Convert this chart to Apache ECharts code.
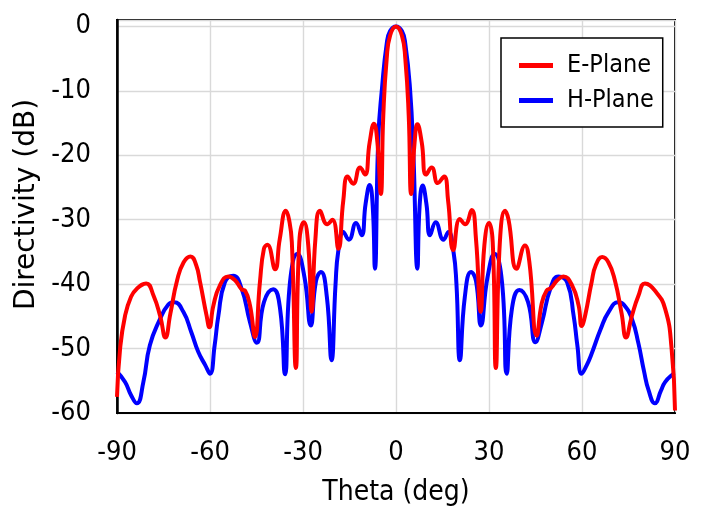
<!DOCTYPE html>
<html>
<head>
<meta charset="utf-8">
<script src="https://cdn.jsdelivr.net/npm/echarts@6/dist/echarts.min.js"></script>
<style>html,body{margin:0;padding:0;background:#fff}#c{width:704px;height:509px}</style>
</head>
<body>
<div id="c"></div>
<script>
const seriesNames = ['E-Plane', 'H-Plane'];
const xTicks = [-90, -60, -30, 0, 30, 60, 90];
const yTicks = [-60, -50, -40, -30, -20, -10, 0];

const thetaE = [-90,-89,-87.4,-85.5,-83.6,-80.6,-78.2,-76,-74.4,-72.8,-70.6,-68.5,-66.3,-64.5,-63.2,-61.1,-60.2,-58.9,-56.8,-54.1,-51.9,-49.8,-48.7,-47.1,-45.5,-43.9,-42.6,-41.5,-39,-37.5,-35.5,-34.5,-33.6,-32.3,-31.2,-29.7,-28.3,-27.2,-26,-24.5,-22.2,-20.5,-18.6,-17,-15.6,-13.8,-11.6,-10,-8.5,-7.1,-6,-4.9,-4.1,-3,-1.9,0,
  1.9,3,4.1,4.9,6,6.9,8.3,9.7,11.5,13.5,15.5,16.8,18.5,20.6,22.3,24.4,25.8,27.3,28.5,30,31.2,32.2,33.5,35.2,36.3,38.9,41.6,43,45.4,47,48.6,50,52,54,56.8,58.9,59.9,61,63.1,64.5,66.5,68.5,70.6,72.8,74.2,76,78.2,80.3,83.5,86.8,88.9,90];
const dbE = [-57.5,-50,-44.9,-42,-40.7,-39.9,-41.8,-45.1,-48.3,-44.6,-39.4,-36.6,-35.7,-37,-39.7,-44.9,-46.7,-43.3,-40.2,-38.8,-39.4,-40.8,-41,-43.3,-48.2,-39.7,-34.5,-33.9,-37.7,-33,-28.6,-30,-33.5,-53,-33.5,-30.4,-34,-44.3,-33,-28.6,-30.7,-30,-34.5,-27,-23.3,-24.4,-21.9,-23,-18,-15.1,-18,-26,-13.8,-5,-1.4,0,
  -1.4,-5,-13.8,-26,-18,-15.2,-18,-23,-21.9,-24.3,-23.3,-27,-34.7,-29.9,-30.7,-28.5,-33,-44.3,-34,-30.5,-33.5,-53,-33.5,-28.6,-30,-37.6,-34,-36.5,-48,-43,-41,-40.6,-39.4,-38.8,-40.2,-43.3,-46.5,-44.9,-39.7,-37,-35.8,-36.6,-39.4,-44.6,-48.3,-45.1,-41.8,-39.9,-41,-43.8,-50,-59.6];

const thetaH = [-90,-87.4,-85.5,-83.6,-81.5,-79.4,-76.1,-73.5,-71.6,-68.6,-66,-63.8,-61.5,-60,-58.5,-57.3,-55.2,-52.5,-49.8,-47.1,-44.9,-42.6,-39.6,-37.4,-35.8,-34.2,-31.8,-29.5,-27.5,-25.8,-24.2,-22.3,-20.8,-19.5,-18.6,-17,-15.2,-12.9,-11.1,-9.8,-8.5,-7.5,-6.8,-5.7,-4.5,-3,-1.9,0,
  1.9,3,4.5,5.6,6.9,7.6,8.6,9.8,11,12.8,15.3,16.9,18.5,19.5,20.6,22.2,24.2,25.8,27.4,29.5,31.8,34.2,35.7,37.4,39.8,42.6,45,47.1,49.8,52.4,55.2,57.3,58.5,59.9,61.5,63.1,66,68.6,71.7,73.5,76.1,78.2,80,81.5,83.5,85.5,86.8,89.5,90];
const dbH = [-53.6,-55.2,-57.2,-58.5,-55.2,-49.5,-45.4,-43.2,-42.8,-44.3,-47.5,-50.5,-52.6,-53.9,-49.5,-44.9,-39.7,-38.7,-40.7,-45.9,-49.1,-42.8,-40.8,-43.8,-54,-39.7,-35.3,-39,-46.4,-39.5,-38.1,-42,-51.8,-40,-34.8,-31.9,-33.1,-30.5,-32.4,-27.5,-24.6,-28,-37.6,-17.2,-9.5,-2.7,-0.7,0,
  -0.7,-2.7,-9.5,-19.7,-37.6,-28,-24.7,-27.5,-32.4,-30.4,-33.1,-31.9,-34.8,-40,-51.8,-42,-38.1,-39.5,-46.4,-39,-35.3,-39.7,-53.9,-43.8,-40.9,-42.8,-49,-45.9,-40.7,-38.8,-39.7,-44.9,-49.5,-53.9,-52.6,-50.8,-47,-44.3,-42.8,-43.2,-45.4,-49.2,-53.5,-56.5,-58.5,-56.5,-55.2,-53.9,-53.8];

const pair = (xs, ys) => xs.map((x, i) => [x, ys[i]]);
const FONT = '"DejaVu Sans Condensed", "DejaVu Sans", sans-serif';
const FONT_Y = '"DejaVu Sans", sans-serif';
const FS = 27;
const chart = echarts.init(document.getElementById('c'), null, {renderer: 'canvas'});
chart.setOption({
  animation: false,
  backgroundColor: '#fff',
  textStyle: {fontFamily: FONT},
  grid: {left: 117, right: 29, top: 20, bottom: 96, outerBoundsMode: 'none', containLabel: false,
    show: true, borderColor: '#000', borderWidth: 2, backgroundColor: '#fff'},
  legend: {
    data: seriesNames, orient: 'vertical', left: 501, top: 38,
    icon: 'rect', itemWidth: 34, itemHeight: 5, itemGap: 10,
    padding: [15, 9, 14, 18],
    borderColor: '#000', borderWidth: 1.5, backgroundColor: '#fff',
    textStyle: {fontFamily: FONT, fontSize: 25, color: '#000', padding: [0, 0, 0, 9]}
  },
  xAxis: {
    type: 'value', min: xTicks[0], max: xTicks[xTicks.length - 1], interval: 30,
    name: 'Theta (deg)', nameLocation: 'middle', nameGap: 66,
    nameTextStyle: {fontFamily: FONT, fontSize: 28, color: '#000'},
    axisLine: {show: true, onZero: false, lineStyle: {color: '#000', width: 2}},
    axisTick: {show: false},
    axisLabel: {fontFamily: FONT, fontSize: FS, color: '#000', margin: 26},
    splitLine: {show: true, lineStyle: {color: '#d9d9d9', width: 1.4}}
  },
  yAxis: {
    type: 'value', min: yTicks[0], max: 1, interval: 10,
    name: 'Directivity (dB)', nameLocation: 'middle', nameGap: 64,
    nameTextStyle: {fontFamily: FONT_Y, fontSize: 28, color: '#000', padding: [0, 0, 0, 24]},
    axisLine: {show: true, onZero: false, lineStyle: {color: '#000', width: 2.5}},
    axisTick: {show: false},
    axisLabel: {fontFamily: FONT, fontSize: FS, color: '#000', margin: 26,
      formatter: v => (yTicks.indexOf(v) >= 0 ? String(v) : '')},
    splitLine: {show: true, lineStyle: {color: '#d9d9d9', width: 1.4}}
  },
  series: [
    {name: seriesNames[1], type: 'line', data: pair(thetaH, dbH), showSymbol: false, smooth: 0.5,
     lineStyle: {color: '#0000ff', width: 4}, itemStyle: {color: '#0000ff'}, z: 2},
    {name: seriesNames[0], type: 'line', data: pair(thetaE, dbE), showSymbol: false, smooth: 0.5,
     lineStyle: {color: '#ff0000', width: 4}, itemStyle: {color: '#ff0000'}, z: 3}
  ]
});
</script>
</body>
</html>
